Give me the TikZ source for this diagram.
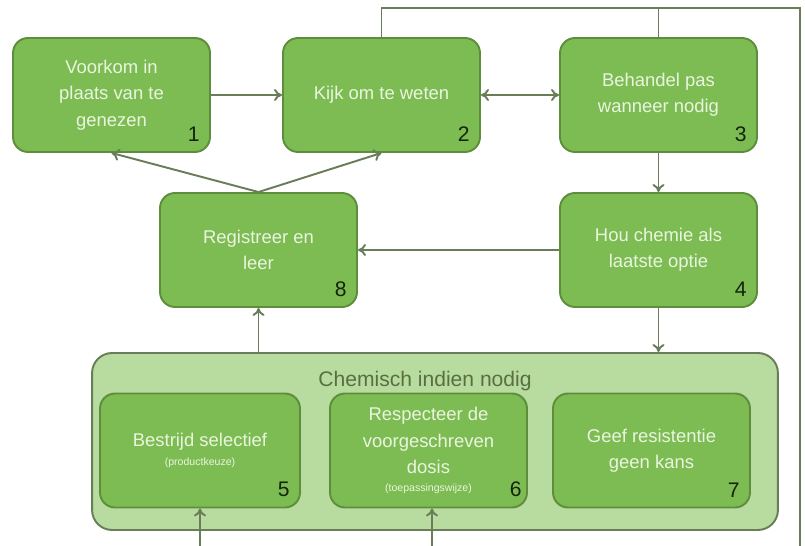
\documentclass[tikz,border=0pt]{standalone}
\usepackage{fontspec}
\setmainfont{Liberation Sans}
\usetikzlibrary{arrows.meta,positioning}
\definecolor{leaf}{HTML}{7CBC52}
\definecolor{leafdark}{HTML}{5E8E3C}
\definecolor{leafpale}{HTML}{B8DBA0}
\definecolor{moss}{HTML}{687D58}
\definecolor{ink}{HTML}{16240C}
\definecolor{paletext}{HTML}{EAF5E0}
\definecolor{labelgreen}{HTML}{587040}

\begin{document}
\begin{tikzpicture}[x=0.02cm, y=-0.02cm,
    >={To[length=1.6mm,width=2.4mm]},
    every node/.style={font=\fontsize{10.5}{15}\selectfont},
    stepbox/.style={rectangle, rounded corners=0.3cm, draw=leafdark, line width=1.1pt,
        fill=leaf, text=paletext, minimum width=3.94cm, minimum height=2.28cm, align=center},
    groupbox/.style={rectangle, rounded corners=0.4cm, draw=moss, line width=1.1pt,
        fill=leafpale, minimum width=13.72cm, minimum height=3.54cm},
    num/.style={font=\fontsize{12}{12}\selectfont, text=ink, inner sep=0pt, anchor=south east,
        xshift=-0.22cm, yshift=0.22cm},
    link/.style={draw=moss, line width=1.1pt, ->},
    wire/.style={draw=moss, line width=1.1pt},
]
\useasboundingbox (0,0) rectangle (805,546);

% Top row
\node[stepbox] (prevent) at (111.5,95) {Voorkom in\\plaats van te\\genezen};
\node[stepbox] (monitor) at (381.5,95) {Kijk om te weten};
\node[stepbox] (treat) at (658.5,95) {Behandel pas\\wanneer nodig};

% Middle row
\node[stepbox] (record) at (258.5,250) {Registreer en\\leer};
\node[stepbox] (lastresort) at (658.5,250) {Hou chemie als\\laatste optie};

% Chemical group
\node[groupbox] (chemical) at (435,441.5) {};
\node[font=\fontsize{12}{14}\selectfont, text=labelgreen, below=0.26cm of chemical.north, xshift=-0.2cm]
    (chemlabel) {Chemisch indien nodig};
\node[stepbox, minimum width=4cm] (selective) at (200,450.5)
    {Bestrijd selectief\\[-4pt]{\fontsize{6}{8}\selectfont (productkeuze)}};
\node[stepbox] (dose) at (428.5,450.5)
    {Respecteer de\\voorgeschreven\\dosis\\[-5pt]{\fontsize{6}{8}\selectfont (toepassingswijze)}};
\node[stepbox] (resistance) at (651.5,450.5) {Geef resistentie\\geen kans};

% Numbers
\node[num] at (prevent.south east) {1};
\node[num] at (monitor.south east) {2};
\node[num] at (treat.south east) {3};
\node[num] at (lastresort.south east) {4};
\node[num] at (selective.south east) {5};
\node[num, xshift=0.1cm] at (dose.south east) {6};
\node[num] at (resistance.south east) {7};
\node[num] at (record.south east) {8};

% Arrows
\draw[link] (prevent) -- (monitor);
\draw[link, <->] (monitor) -- (treat);
\draw[link] (treat) -- (lastresort);
\draw[link] (lastresort) -- (record);
\draw[link] (record.north) -- (prevent.south);
\draw[link] (record.north) -- (monitor.south);
\draw[link] (chemical.north -| record.south) -- (record.south);
\draw[link] (lastresort.south) -- (lastresort.south |- chemical.north);

% Feedback wire round the right side
\coordinate (topleft) at (381.5,8);
\coordinate (rightend) at (800,546);
\draw[wire] (monitor.north) -- (topleft) -| (rightend);
\draw[wire] (treat.north) -- (treat.north |- topleft);

% Inputs from below
\coordinate (feedA) at (200,546);
\coordinate (feedB) at (432,546);
\draw[link] (feedA) -- (selective.south);
\draw[link] (feedB) -- (feedB |- dose.south);

\end{tikzpicture}
\end{document}
